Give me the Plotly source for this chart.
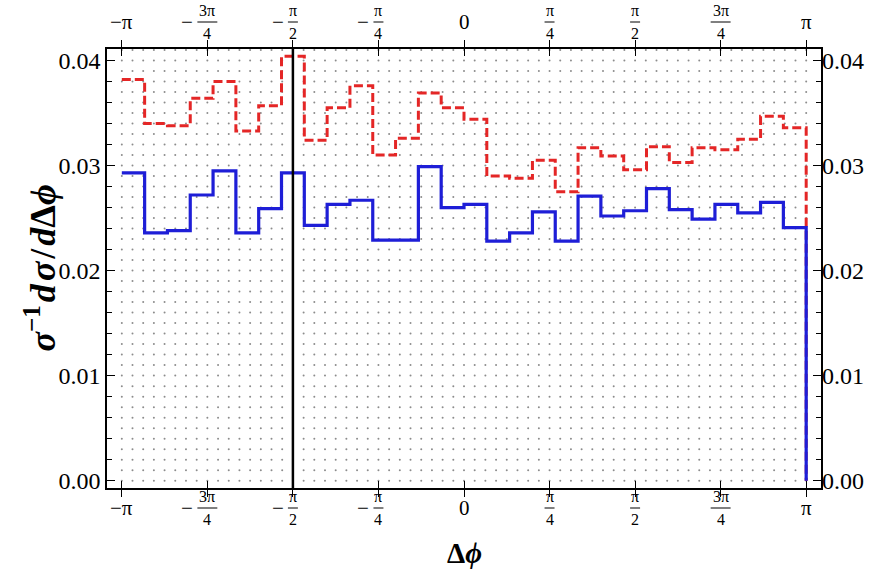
import numpy as np
import plotly.graph_objects as go

pi = np.pi
n_bins = 30
edges = np.linspace(-pi, pi, n_bins + 1)

blue_vals = [0.0293, 0.0236, 0.0238, 0.0272, 0.0295, 0.0236, 0.0259, 0.0293, 0.0243, 0.0263,
             0.0267, 0.0229, 0.0229, 0.0299, 0.0260, 0.0263, 0.0228, 0.0236, 0.0256, 0.0228,
             0.0271, 0.0252, 0.0257, 0.0278, 0.0258, 0.0249, 0.0263, 0.0255, 0.0265, 0.0241]
red_vals = [0.0382, 0.0340, 0.0338, 0.0364, 0.0380, 0.0333, 0.0357, 0.0404, 0.0324, 0.0355,
            0.0376, 0.0310, 0.0326, 0.0369, 0.0355, 0.0344, 0.0290, 0.0288, 0.0305, 0.0275,
            0.0317, 0.0309, 0.0296, 0.0318, 0.0303, 0.0317, 0.0315, 0.0325, 0.0347, 0.0336]

tick_x = [-pi, -3 * pi / 4, -pi / 2, -pi / 4, 0, pi / 4, pi / 2, 3 * pi / 4, pi]
tick_num = ["π", "3π", "π", "π", "0", "π", "π", "3π", "π"]
tick_den = [None, "4", "2", "4", None, "4", "2", "4", None]
tick_neg = [True, True, True, True, False, False, False, False, False]

vline_x = -pi / 2
y_range = [-0.0007, 0.0411]
x_range = [-pi - 0.136, pi + 0.136]

SERIF = "Liberation Serif"

fig = go.Figure()

# dotted background grid
gx = -pi + np.arange(65) * pi / 32
gy = np.arange(0, 0.04105, 0.001)
GX, GY = np.meshgrid(gx, gy)
fig.add_trace(go.Scatter(x=GX.ravel(), y=GY.ravel(), mode="markers",
                         marker=dict(size=2, color="rgb(140,140,140)"),
                         hoverinfo="skip", showlegend=False))


def step_xy(vals):
    xs = list(edges) + [pi]
    ys = list(vals) + [vals[-1], 0.0]
    return xs, ys


rx, ry = step_xy(red_vals)
fig.add_trace(go.Scatter(x=rx, y=ry, mode="lines", line_shape="hv",
                         line=dict(color="rgb(228,38,38)", width=3, dash="9px,4px"),
                         showlegend=False))
bx, by = step_xy(blue_vals)
fig.add_trace(go.Scatter(x=bx, y=by, mode="lines", line_shape="hv",
                         line=dict(color="rgb(30,30,215)", width=3.2),
                         showlegend=False))
fig.add_trace(go.Scatter(x=[0], y=[0], yaxis="y2", mode="markers",
                         marker=dict(opacity=0), hoverinfo="skip", showlegend=False))

fig.add_shape(type="line", xref="x", yref="paper", x0=vline_x, x1=vline_x, y0=0, y1=1,
              line=dict(color="black", width=2.5))

annotations = []
shapes = []
for xv, num, den, neg in zip(tick_x, tick_num, tick_den, tick_neg):
    for ypos, base in ((0, -20), (1, 27)):
        if den is None:
            txt = ("−" if neg else "") + num
            annotations.append(dict(x=xv, y=ypos, xref="x", yref="paper", text=txt,
                                    showarrow=False, xanchor="center", yanchor="middle",
                                    yshift=base, font=dict(family=SERIF, size=21, color="black")))
        else:
            fw = 20 if len(num) > 1 else 10
            annotations.append(dict(x=xv, y=ypos, xref="x", yref="paper", text=num,
                                    showarrow=False, xanchor="center", yanchor="bottom",
                                    yshift=base + 1, font=dict(family=SERIF, size=16, color="black")))
            annotations.append(dict(x=xv, y=ypos, xref="x", yref="paper", text=den,
                                    showarrow=False, xanchor="center", yanchor="top",
                                    yshift=base - 1, font=dict(family=SERIF, size=16, color="black")))
            bar_half = fw / 2 / 109.15
            shapes.append(dict(type="line", xref="x", yref="paper", x0=xv - bar_half, x1=xv + bar_half,
                               y0=ypos + base / 439, y1=ypos + base / 439,
                               line=dict(color="black", width=1)))
            if neg:
                annotations.append(dict(x=xv, y=ypos, xref="x", yref="paper", text="−",
                                        showarrow=False, xanchor="right", yanchor="middle",
                                        xshift=-fw / 2 - 2, yshift=base,
                                        font=dict(family=SERIF, size=21, color="black")))

hs = "\u200a"
annotations.append(dict(x=0, y=0.5, xref="paper", yref="paper",
                        text=f"<b><i>σ</i><sup>−1</sup>{hs}<i>d</i>{hs}<i>σ</i>{hs}/{hs}<i>d</i>Δ<i>ϕ</i></b>",
                        textangle=-90, showarrow=False, xanchor="center", yanchor="middle",
                        xshift=-67, font=dict(family=SERIF, size=36, color="black")))
annotations.append(dict(x=0.5, y=0, xref="paper", yref="paper", text="<b>Δ<i>ϕ</i></b>",
                        showarrow=False, xanchor="center", yanchor="middle", yshift=-65,
                        font=dict(family=SERIF, size=29, color="black")))

for s in shapes:
    fig.add_shape(**s)

ytick_common = dict(range=y_range, tick0=0, dtick=0.01, tickformat=".2f",
                    ticks="inside", ticklen=8, tickwidth=1, tickcolor="black",
                    minor=dict(ticks="inside", ticklen=5, dtick=0.002, tickcolor="black", showgrid=False),
                    showgrid=False, zeroline=False,
                    tickfont=dict(family=SERIF, size=24, color="black"))

fig.update_layout(
    width=876, height=577,
    margin=dict(l=107, r=53, t=49, b=89),
    paper_bgcolor="white", plot_bgcolor="white",
    xaxis=dict(range=x_range, tickvals=tick_x, showticklabels=False, ticks="inside",
               ticklen=7, tickwidth=1, tickcolor="black", showline=True, linecolor="black",
               linewidth=1.5, mirror="allticks", showgrid=False, zeroline=False),
    yaxis=dict(showline=True, linecolor="black", linewidth=1.5, mirror=True, **ytick_common),
    yaxis2=dict(overlaying="y", side="right", matches="y", showline=False, **ytick_common),
    annotations=annotations,
    showlegend=False,
)

fig.write_html("out.html")
